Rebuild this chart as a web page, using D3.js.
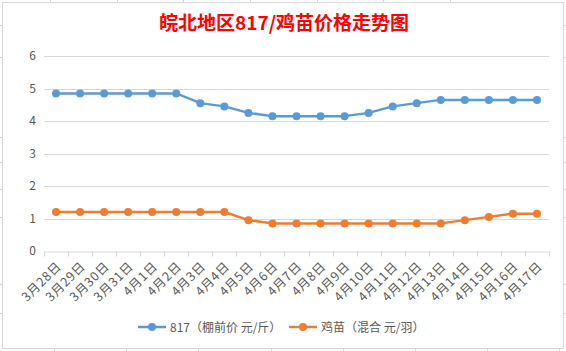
<!DOCTYPE html>
<html lang="zh">
<head>
<meta charset="UTF-8">
<script src="https://d3js.org/d3.v7.min.js"></script>
<style>
  body { margin: 0; background: #fff; }
  svg { display: block; font-family: "Noto Sans CJK SC", "Noto Sans", sans-serif; }
</style>
</head>
<body>
<div id="chart"></div>
<script>
// Data
const dates = ["3月28日", "3月29日", "3月30日", "3月31日", "4月1日", "4月2日", "4月3日",
  "4月4日", "4月5日", "4月6日", "4月7日", "4月8日", "4月9日", "4月10日", "4月11日",
  "4月12日", "4月13日", "4月14日", "4月15日", "4月16日", "4月17日"];
const price817 = [4.85, 4.85, 4.85, 4.85, 4.85, 4.85, 4.55, 4.45, 4.25, 4.15, 4.15,
  4.15, 4.15, 4.25, 4.45, 4.55, 4.65, 4.65, 4.65, 4.65, 4.65];
const priceChick = [1.2, 1.2, 1.2, 1.2, 1.2, 1.2, 1.2, 1.2, 0.95, 0.85, 0.85, 0.85,
  0.85, 0.85, 0.85, 0.85, 0.85, 0.95, 1.05, 1.15, 1.15];
const yTicks = [0, 1, 2, 3, 4, 5, 6];
const seriesNames = ["817（棚前价 元/斤）", "鸡苗（混合 元/羽）"];
const colors = ["#5B9BD5", "#ED7D31"];

const width = 566, height = 351;
const svg = d3.select("#chart").append("svg")
  .attr("width", width)
  .attr("height", height);

// spreadsheet cell stubs behind the chart
const stubs = svg.append("g").attr("stroke", "#D4D4D4").attr("stroke-width", 1);
[50, 117, 183, 250, 317, 383, 450].forEach(x => stubs.append("line")
  .attr("x1", x + 0.5).attr("x2", x + 0.5).attr("y1", 0).attr("y2", 3));
[25, 57, 137, 162, 189, 217, 284, 313].forEach(y => {
  stubs.append("line").attr("x1", 0).attr("x2", 3).attr("y1", y + 0.5).attr("y2", y + 0.5);
  stubs.append("line").attr("x1", 563).attr("x2", 566).attr("y1", y + 0.5).attr("y2", y + 0.5);
});
[54, 126, 198, 271, 343, 415, 487, 559].forEach(x => stubs.append("line")
  .attr("x1", x + 0.5).attr("x2", x + 0.5).attr("y1", 348).attr("y2", 351));

// chart frame
svg.append("rect")
  .attr("x", 2.5).attr("y", 2.5)
  .attr("width", 561).attr("height", 346)
  .attr("fill", "#fff")
  .attr("stroke", "#D9D9D9");

// Title
svg.append("text")
  .attr("x", 284).attr("y", 30)
  .attr("text-anchor", "middle")
  .attr("fill", "#FF0000")
  .attr("font-size", 19)
  .attr("font-weight", "bold")
  .text("皖北地区817/鸡苗价格走势图");

// Scales
const x = d3.scaleBand().domain(dates).range([44, 549]);
const y = d3.scaleLinear().domain([0, 6]).range([251, 56]);

// Gridlines
svg.append("g")
  .selectAll("line")
  .data(yTicks.filter(d => d > 0))
  .join("line")
  .attr("x1", 44).attr("x2", 549)
  .attr("y1", d => Math.round(y(d)) + 0.5)
  .attr("y2", d => Math.round(y(d)) + 0.5)
  .attr("stroke", "#D9D9D9");

// Y axis labels
svg.append("g")
  .selectAll("text")
  .data(yTicks)
  .join("text")
  .attr("x", 36)
  .attr("y", d => y(d) + 4)
  .attr("text-anchor", "end")
  .attr("fill", "#595959")
  .attr("font-size", 12)
  .text(d => d);

// X axis
const xAxis = svg.append("g")
  .attr("transform", `translate(0,${Math.round(y(0)) + 0.5})`)
  .call(d3.axisBottom(x).tickSize(0).tickFormat(""));
xAxis.select(".domain").attr("stroke", "#D9D9D9");
xAxis.selectAll(".tick").remove();
xAxis.selectAll("line.bt")
  .data(dates.concat(["end"]))
  .join("line")
  .attr("class", "bt")
  .attr("x1", (d, i) => Math.round(44 + i * x.step()) + 0.5)
  .attr("x2", (d, i) => Math.round(44 + i * x.step()) + 0.5)
  .attr("y1", 0).attr("y2", 5)
  .attr("stroke", "#D9D9D9");

svg.append("g")
  .selectAll("text")
  .data(dates)
  .join("text")
  .attr("transform", d => `translate(${x(d) + x.bandwidth() / 2 + 3},${264}) rotate(-45)`)
  .attr("text-anchor", "end")
  .attr("dy", "0.35em")
  .attr("fill", "#595959")
  .attr("font-size", 12.5)
  .attr("letter-spacing", 0.8)
  .text(d => d);

// Lines
const series = [price817, priceChick];
const line = d3.line()
  .x((d, i) => x(dates[i]) + x.bandwidth() / 2)
  .y(d => y(d));

series.forEach((s, k) => {
  const g = svg.append("g");
  g.append("path")
    .datum(s)
    .attr("d", line)
    .attr("fill", "none")
    .attr("stroke", colors[k])
    .attr("stroke-width", 2.5)
    .attr("stroke-linejoin", "round");
  g.selectAll("circle")
    .data(s)
    .join("circle")
    .attr("cx", (d, i) => x(dates[i]) + x.bandwidth() / 2)
    .attr("cy", d => y(d))
    .attr("r", 4)
    .attr("fill", colors[k]);
});

// Legend
const legend = svg.append("g").attr("transform", "translate(0,327)");
const legendX = [138, 289];
seriesNames.forEach((name, k) => {
  const g = legend.append("g").attr("transform", `translate(${legendX[k]},0)`);
  g.append("line")
    .attr("x1", 0).attr("x2", 28)
    .attr("stroke", colors[k])
    .attr("stroke-width", 2.5);
  g.append("circle").attr("cx", 14).attr("r", 4).attr("fill", colors[k]);
  g.append("text")
    .attr("x", 32).attr("y", 4.5)
    .attr("fill", "#595959")
    .attr("font-size", 12)
    .text(name);
});
</script>
</body>
</html>
